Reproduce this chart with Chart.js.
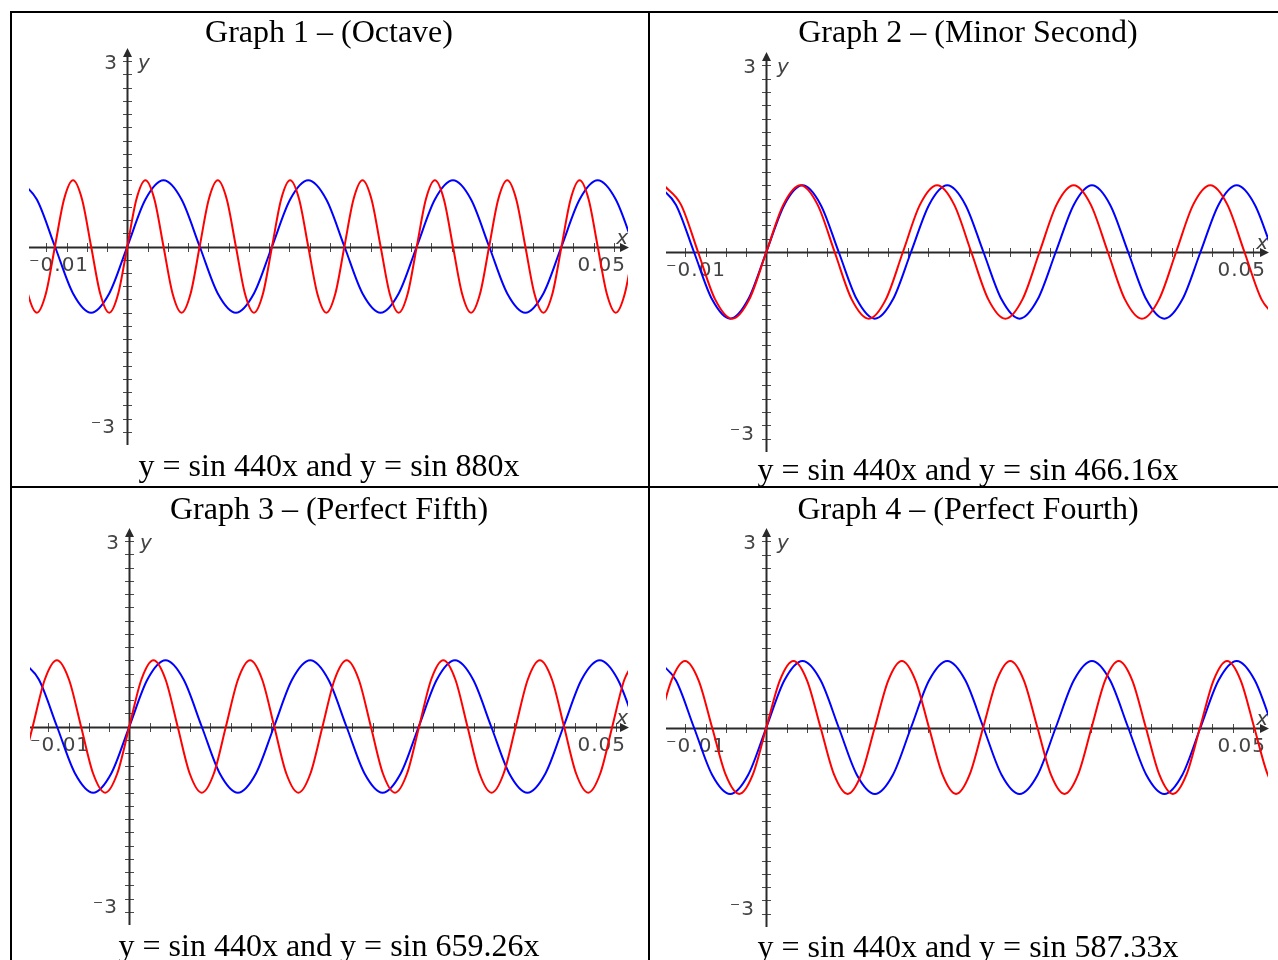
<!DOCTYPE html>
<html><head><meta charset="utf-8">
<script src="https://cdn.jsdelivr.net/npm/chart.js@4.4.1/dist/chart.umd.min.js"></script>
<style>
html,body{margin:0;padding:0;background:#fff;}
body{width:1278px;height:960px;position:relative;overflow:hidden;}
.rule{position:absolute;background:#000;}
canvas{position:absolute;}
.txt{position:absolute;width:640px;text-align:center;font-family:"Liberation Serif","Times New Roman",serif;font-size:32px;line-height:32px;color:#000;white-space:nowrap;z-index:2;}
</style></head><body>
<div class="rule" style="left:10px;top:11px;width:2px;height:949px"></div>
<div class="rule" style="left:10px;top:11px;width:1268px;height:2px"></div>
<div class="rule" style="left:648px;top:11px;width:2px;height:949px"></div>
<div class="rule" style="left:10px;top:486px;width:1268px;height:2px"></div>

<canvas id="g1" width="636" height="473" style="left:12px;top:13px"></canvas>
<canvas id="g2" width="628" height="473" style="left:650px;top:13px"></canvas>
<canvas id="g3" width="636" height="472" style="left:12px;top:488px"></canvas>
<canvas id="g4" width="628" height="472" style="left:650px;top:488px"></canvas>

<div class="txt" id="t1" style="left:9px;top:15px"></div>
<div class="txt" id="c1" style="left:9px;top:449px"></div>
<div class="txt" id="t2" style="left:648px;top:15px"></div>
<div class="txt" id="c2" style="left:648px;top:453px"></div>
<div class="txt" id="t3" style="left:9px;top:492px"></div>
<div class="txt" id="c3" style="left:9px;top:929px"></div>
<div class="txt" id="t4" style="left:648px;top:492px"></div>
<div class="txt" id="c4" style="left:648px;top:930px"></div>

<script>
// ---------- text ----------
const titles = ["Graph 1 – (Octave)", "Graph 2 – (Minor Second)", "Graph 3 – (Perfect Fifth)", "Graph 4 – (Perfect Fourth)"];
const captions = ["y = sin 440x and y = sin 880x", "y = sin 440x and y = sin 466.16x", "y = sin 440x and y = sin 659.26x", "y = sin 440x and y = sin 587.33x"];
const yTickLabels = ["3", "\u207B3"];
const xTickLabels = ["\u207B0.01", "0.05"];

// ---------- series: key points (zeros, half-heights, extrema) ----------
// blue: y = sin 440x (same curve in all four graphs)
const blueX = [-0.01071,-0.008925,-0.00714,-0.005355,-0.00357,-0.001785,0,0.001785,0.00357,0.005355,0.00714,0.008925,0.01071,0.012495,0.01428,0.016065,0.01785,0.019635,0.02142,0.023205,0.02499,0.026775,0.02856,0.030345,0.03213,0.033915,0.0357,0.037485,0.03927,0.041055,0.04284,0.044625,0.04641,0.048195,0.04998];
const blueY = [1,0.71,0,-0.71,-1,-0.71,0,0.71, 1,0.71,0,-0.71,-1,-0.71,0,0.71, 1,0.71,0,-0.71,-1,-0.71,0,0.71, 1,0.71,0,-0.71,-1,-0.71,0,0.71, 1,0.71,0];

// Graph 1 red: y = sin 880x
const octaveX = [-0.01071,-0.009818,-0.008925,-0.008033,-0.00714,-0.006248,-0.005355,-0.004463,-0.00357,-0.002678,-0.001785,-0.000893,0,0.000893,0.001785,0.002678,0.00357,0.004463,0.005355,0.006248,0.00714,0.008033,0.008925,0.009818,0.01071,0.011603,0.012495,0.013388,0.01428,0.015173,0.016065,0.016958,0.01785,0.018743,0.019635,0.020528,0.02142,0.022313,0.023205,0.024098,0.02499,0.025883,0.026775,0.027668,0.02856,0.029453,0.030345,0.031238,0.03213,0.033023,0.033915,0.034808,0.0357,0.036593,0.037485,0.038378,0.03927,0.040163,0.041055,0.041948,0.04284,0.043733,0.044625,0.045518,0.04641,0.047303,0.048195,0.049088,0.04998];
const octaveY = [0,-0.71,-1,-0.71,0,0.71,1,0.71, 0,-0.71,-1,-0.71,0,0.71,1,0.71, 0,-0.71,-1,-0.71,0,0.71,1,0.71, 0,-0.71,-1,-0.71,0,0.71,1,0.71, 0,-0.71,-1,-0.71,0,0.71,1,0.71, 0,-0.71,-1,-0.71,0,0.71,1,0.71, 0,-0.71,-1,-0.71,0,0.71,1,0.71, 0,-0.71,-1,-0.71,0,0.71,1,0.71, 0,-0.71,-1,-0.71,0];

// Graph 2 red: y = sin 466.16x
const minorSecondX = [-0.010109,-0.008424,-0.006739,-0.005054,-0.00337,-0.001685,0,0.001685,0.00337,0.005054,0.006739,0.008424,0.010109,0.011794,0.013478,0.015163,0.016848,0.018533,0.020218,0.021902,0.023587,0.025272,0.026957,0.028642,0.030326,0.032011,0.033696,0.035381,0.037066,0.03875,0.040435,0.04212,0.043805,0.04549,0.047174,0.048859,0.050544];
const minorSecondY = [1,0.71,0,-0.71,-1,-0.71,0,0.71, 1,0.71,0,-0.71,-1,-0.71,0,0.71, 1,0.71,0,-0.71,-1,-0.71,0,0.71, 1,0.71,0,-0.71,-1,-0.71,0,0.71, 1,0.71,0,-0.71,-1];

// Graph 3 red: y = sin 659.26x
const fifthX = [-0.010722,-0.009531,-0.008339,-0.007148,-0.005957,-0.004765,-0.003574,-0.002383,-0.001191,0,0.001191,0.002383,0.003574,0.004765,0.005957,0.007148,0.008339,0.009531,0.010722,0.011913,0.013105,0.014296,0.015487,0.016679,0.01787,0.019061,0.020253,0.021444,0.022635,0.023827,0.025018,0.026209,0.027401,0.028592,0.029783,0.030975,0.032166,0.033357,0.034549,0.03574,0.036931,0.038123,0.039314,0.040505,0.041697,0.042888,0.044079,0.045271,0.046462,0.047653,0.048845,0.050036];
const fifthY = [-0.71,0,0.71,1,0.71,0,-0.71,-1, -0.71,0,0.71,1,0.71,0,-0.71,-1, -0.71,0,0.71,1,0.71,0,-0.71,-1, -0.71,0,0.71,1,0.71,0,-0.71,-1, -0.71,0,0.71,1,0.71,0,-0.71,-1, -0.71,0,0.71,1,0.71,0,-0.71,-1, -0.71,0,0.71,1];

// Graph 4 red: y = sin 587.33x
const fourthX = [-0.010698,-0.009361,-0.008023,-0.006686,-0.005349,-0.004012,-0.002674,-0.001337,0,0.001337,0.002674,0.004012,0.005349,0.006686,0.008023,0.009361,0.010698,0.012035,0.013372,0.01471,0.016047,0.017384,0.018721,0.020059,0.021396,0.022733,0.02407,0.025408,0.026745,0.028082,0.029419,0.030757,0.032094,0.033431,0.034768,0.036105,0.037443,0.03878,0.040117,0.041454,0.042792,0.044129,0.045466,0.046803,0.048141,0.049478,0.050815];
const fourthY = [0,0.71,1,0.71,0,-0.71,-1,-0.71, 0,0.71,1,0.71,0,-0.71,-1,-0.71, 0,0.71,1,0.71,0,-0.71,-1,-0.71, 0,0.71,1,0.71,0,-0.71,-1,-0.71, 0,0.71,1,0.71,0,-0.71,-1,-0.71, 0,0.71,1,0.71,0,-0.71,-1];

// window of each graph
const xWindows = [[-0.0097, 0.0494], [-0.0099, 0.0495], [-0.0098, 0.0492], [-0.0099, 0.0495]];
const yWindow = [-3, 3];
const xTickStep = 0.002;
const yTickStep = 0.2;

// ---------- layout (absolute pixel rects of each plot area, and canvas positions) ----------
const panels = [
  {id:'g1', cx:12,  cy:13,  w:636, h:473, area:{l:29, r:628,  t:48, b:445}},
  {id:'g2', cx:650, cy:13,  w:628, h:473, area:{l:666,r:1268, t:52, b:452}},
  {id:'g3', cx:12,  cy:488, w:636, h:472, area:{l:30, r:628,  t:528,b:925}},
  {id:'g4', cx:650, cy:488, w:628, h:472, area:{l:666,r:1268, t:528,b:927}}
];
const redSeries = [[octaveX, octaveY], [minorSecondX, minorSecondY], [fifthX, fifthY], [fourthX, fourthY]];

titles.forEach((t,i)=>{ document.getElementById('t'+(i+1)).textContent = t; });
captions.forEach((t,i)=>{ document.getElementById('c'+(i+1)).textContent = t; });

const LABEL_COLOR = '#444444';
const AXIS_COLOR = '#2a2a2a';
const TICK_COLOR = '#4a4a4a';

const tiAxes = {
  id: 'tiAxes',
  beforeDatasetsDraw(chart) {
    const {ctx, chartArea: a, scales: {x, y}} = chart;
    const x0 = Math.round(x.getPixelForValue(0));
    const y0 = Math.round(y.getPixelForValue(0));
    ctx.save();
    // ticks
    ctx.strokeStyle = TICK_COLOR;
    ctx.lineWidth = 1;
    ctx.beginPath();
    const kx0 = Math.ceil(x.min / xTickStep), kx1 = Math.floor(x.max / xTickStep);
    for (let k = kx0; k <= kx1; k++) {
      if (k === 0) continue;
      const px = Math.round(x.getPixelForValue(k * xTickStep)) + 0.5;
      if (px > a.right - 8) continue;
      ctx.moveTo(px, y0 - 4); ctx.lineTo(px, y0 + 5);
    }
    const ky0 = Math.ceil(y.min / yTickStep + 1e-6), ky1 = Math.floor(y.max / yTickStep - 1e-6);
    for (let k = ky0; k <= ky1; k++) {
      if (k === 0) continue;
      const py = Math.round(y.getPixelForValue(k * yTickStep)) + 0.5;
      if (py < a.top + 9) continue;
      ctx.moveTo(x0 - 4, py); ctx.lineTo(x0 + 5, py);
    }
    ctx.stroke();
    // axes
    ctx.strokeStyle = AXIS_COLOR;
    ctx.lineWidth = 2;
    ctx.beginPath();
    ctx.moveTo(a.left, y0 + 0.5); ctx.lineTo(a.right - 2, y0 + 0.5);
    ctx.moveTo(x0 + 0.5, a.bottom); ctx.lineTo(x0 + 0.5, a.top + 4);
    ctx.stroke();
    // arrows
    ctx.fillStyle = AXIS_COLOR;
    ctx.beginPath();
    ctx.moveTo(x0 + 0.5, a.top); ctx.lineTo(x0 - 4, a.top + 9); ctx.lineTo(x0 + 5, a.top + 9); ctx.closePath();
    ctx.moveTo(a.right + 1, y0 + 0.5); ctx.lineTo(a.right - 8, y0 - 4); ctx.lineTo(a.right - 8, y0 + 5); ctx.closePath();
    ctx.fill();
    // labels
    ctx.fillStyle = LABEL_COLOR;
    ctx.textBaseline = 'middle';
    ctx.font = '20px "DejaVu Sans"';
    ctx.letterSpacing = '1px';
    ctx.textAlign = 'right';
    ctx.fillText(yTickLabels[0], x0 - 9, a.top + 16);
    ctx.fillText(yTickLabels[1], x0 - 11, a.bottom - 17);
    ctx.fillText(xTickLabels[1], a.right - 2, y0 + 19);
    ctx.textAlign = 'left';
    ctx.fillText(xTickLabels[0], a.left, y0 + 19);
    ctx.font = 'italic 20px "DejaVu Sans"';
    ctx.fillText('y', x0 + 11, a.top + 16);
    ctx.textAlign = 'right';
    ctx.fillText('x', a.right + 1, y0 - 8);
    ctx.restore();
  }
};

function toPoints(xs, ys) { return xs.map((v, i) => ({x: v, y: ys[i]})); }

panels.forEach((p, i) => {
  const [rx, ry] = redSeries[i];
  new Chart(document.getElementById(p.id), {
    type: 'line',
    data: {
      datasets: [
        {data: toPoints(rx, ry), borderColor: '#ff0000', borderWidth: 2, pointRadius: 0, cubicInterpolationMode: 'monotone', clip: 0, fill: false},
        {data: toPoints(blueX, blueY), borderColor: '#0000ff', borderWidth: 2, pointRadius: 0, cubicInterpolationMode: 'monotone', clip: 0, fill: false}
      ]
    },
    options: {
      responsive: false,
      animation: false,
      devicePixelRatio: 1,
      layout: {padding: {left: p.area.l - p.cx, right: p.cx + p.w - p.area.r, top: p.area.t - p.cy, bottom: p.cy + p.h - p.area.b}},
      scales: {
        x: {type: 'linear', min: xWindows[i][0], max: xWindows[i][1], display: false},
        y: {type: 'linear', min: yWindow[0], max: yWindow[1], display: false}
      },
      plugins: {legend: {display: false}, tooltip: {enabled: false}}
    },
    plugins: [tiAxes]
  });
});
</script>
</body></html>
